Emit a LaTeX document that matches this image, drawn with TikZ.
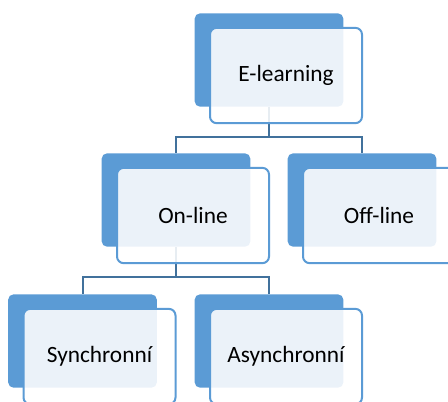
\documentclass[tikz,border=0pt]{standalone}
\usepackage{fontspec}
\setmainfont{Carlito}
\definecolor{accent}{HTML}{5B9BD5}
\definecolor{linkblue}{HTML}{41719C}

\begin{document}
\begin{tikzpicture}[x=0.75pt,y=-0.75pt,
    back node/.style={rectangle,rounded corners=4pt,fill=accent,minimum width=111.5pt,minimum height=70pt,inner sep=0pt},
    front node/.style={rectangle,rounded corners=5pt,draw=accent,line width=1.5pt,fill=white,fill opacity=0.88,text opacity=1,draw opacity=1,minimum width=114pt,minimum height=71.5pt,inner sep=0pt,font=\fontsize{17.5}{20}\selectfont},
    link/.style={draw=linkblue,line width=1.5pt}
]
    \useasboundingbox (0,0) rectangle (448,401);
    \clip (0,0) rectangle (448,401);
    \def\dx{17}
    \def\dy{15.5}

    \node[back node] (el) at (269,60) {};
    \node[back node] (on) at (176,200) {};
    \node[back node] (off) at (362,200) {};
    \node[back node] (syn) at (82.5,341) {};
    \node[back node] (asyn) at (269,341) {};

    \draw[link] (el.south) -- ++(0,30) -| (on.north);
    \draw[link] (el.south) -- ++(0,30) -| (off.north);
    \draw[link] (on.south) -- ++(0,30.5) -| (syn.north);
    \draw[link] (on.south) -- ++(0,30.5) -| (asyn.north);

    \node[front node] (el text) at ([shift={(\dx,\dy)}]el.center) {E-learning};
    \node[front node] (on text) at ([shift={(\dx,\dy)}]on.center) {On-line};
    \node[front node] (off text) at ([shift={(\dx,\dy)}]off.center) {Off-line};
    \node[front node] (syn text) at ([shift={(\dx,\dy)}]syn.center) {Synchronní};
    \node[front node] (asyn text) at ([shift={(\dx,\dy)}]asyn.center) {Asynchronní};
\end{tikzpicture}
\end{document}
